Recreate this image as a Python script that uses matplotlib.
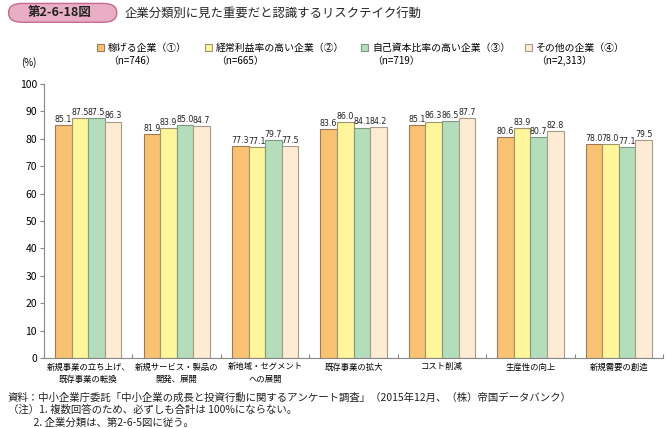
import matplotlib
matplotlib.use("Agg")
import matplotlib.pyplot as plt
from matplotlib.patches import FancyBboxPatch
import numpy as np

plt.rcParams['font.family'] = ['Noto Sans CJK JP', 'DejaVu Sans']

categories = ["新規事業の立ち上げ、\n既存事業の転換", "新規サービス・製品の\n開発、展開", "新地域・セグメント\nへの展開",
              "既存事業の拡大", "コスト削減", "生産性の向上", "新規需要の創造"]
series_names = ["稼げる企業（①）\n（n=746）", "経常利益率の高い企業（②）\n（n=665）",
                "自己資本比率の高い企業（③）\n（n=719）", "その他の企業（④）\n（n=2,313）"]
s1 = [85.1, 81.9, 77.3, 83.6, 85.1, 80.6, 78.0]
s2 = [87.5, 83.9, 77.1, 86.0, 86.3, 83.9, 78.0]
s3 = [87.5, 85.0, 79.7, 84.1, 86.5, 80.7, 77.1]
s4 = [86.3, 84.7, 77.5, 84.2, 87.7, 82.8, 79.5]
yticks = list(range(0, 101, 10))

series = [s1, s2, s3, s4]
colors = ["#F9C272", "#FFF59A", "#B3DDBB", "#FDEBD3"]
edges = ["#9C7A55", "#9C9670", "#7E9A82", "#A89A88"]

fig = plt.figure(figsize=(6.67, 4.28), dpi=100)
ax = fig.add_axes([0.066, 0.1636, 0.928, 0.6401])

x = np.arange(len(categories))
w = 0.1875
for i, (vals, c, ec) in enumerate(zip(series, colors, edges)):
    pos = x + (i - 1.5) * w
    ax.bar(pos, vals, width=w, color=c, edgecolor=ec, linewidth=0.8)
    for p, v in zip(pos, vals):
        ax.text(p, v + 0.4, f"{v:.1f}", ha='center', va='bottom', fontsize=5.7,
                family=['Liberation Sans Narrow', 'DejaVu Sans'], color="#222222")

ax.set_xlim(-0.5, len(categories) - 0.5)
ax.set_ylim(0, 100)
ax.set_yticks(yticks)
ax.set_yticklabels([str(t) for t in yticks], fontsize=7.5)
ax.set_xticks(np.arange(len(categories) + 1) - 0.5, minor=False)
ax.set_xticklabels([])
ax.tick_params(axis='x', direction='in', length=3, color="#888888")
ax.tick_params(axis='y', direction='out', length=3, color="#888888", pad=2)
for t, lab in zip(x, categories):
    ax.text(t, -1.6, lab, ha='center', va='top', fontsize=6.0, linespacing=1.45,
            transform=ax.transData)
for s in ['top', 'right']:
    ax.spines[s].set_visible(False)
ax.spines['left'].set_color("#888888")
ax.spines['bottom'].set_color("#888888")

fig.text(0.043, 0.855, "(%)", fontsize=7, ha='center', va='center')

# title box
box = FancyBboxPatch((0.016, 0.951), 0.156, 0.038, boxstyle="round,pad=0.003,rounding_size=0.02",
                     transform=fig.transFigure, facecolor="#E8AFC4", edgecolor="#C8698F", linewidth=1)
fig.patches.append(box)
fig.text(0.089, 0.970, "第2-6-18図", fontsize=9, ha='center', va='center', color="#222222", weight='bold')
fig.text(0.187, 0.968, "企業分類別に見た重要だと認識するリスクテイク行動", fontsize=8.9, ha='left', va='center',
         color="#222222")

# legend
leg_x = [0.145, 0.307, 0.541, 0.787]
for lx, name, c, ec in zip(leg_x, series_names, colors, edges):
    fig.patches.append(plt.Rectangle((lx, 0.881), 0.011, 0.016, transform=fig.transFigure,
                                     facecolor=c, edgecolor=ec, linewidth=0.8))
    first, second = name.split("\n")
    fig.text(lx + 0.017, 0.888, first, fontsize=7.1, ha='left', va='center')
    fig.text(lx + 0.017, 0.857, second, fontsize=7.1, ha='left', va='center')

# footnotes
notes = ["資料：中小企業庁委託「中小企業の成長と投資行動に関するアンケート調査」（2015年12月、（株）帝国データバンク）",
         "（注）1. 複数回答のため、必ずしも合計は 100%にならない。",
         "　　  2. 企業分類は、第2-6-5図に従う。"]
for k, n in enumerate(notes):
    fig.text(0.012, 0.071 - k * 0.029, n, fontsize=7.5, ha='left', va='center', color="#222222")

fig.savefig("out.png", dpi=100)
